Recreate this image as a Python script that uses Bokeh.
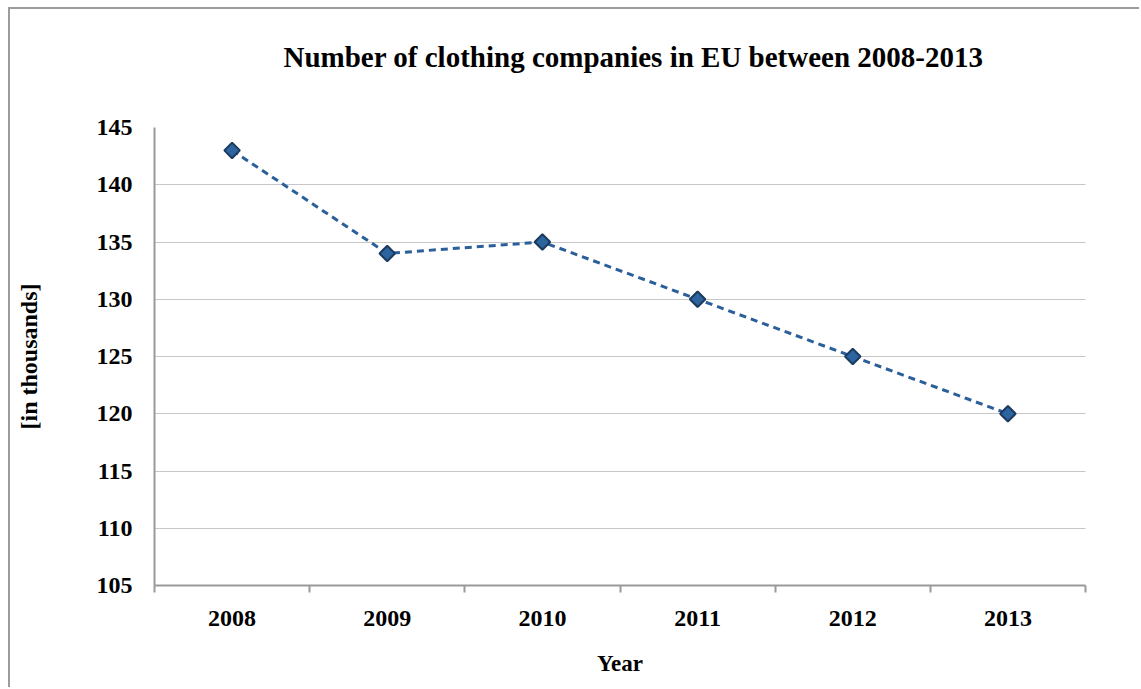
import math
from bokeh.plotting import figure
from bokeh.models import Range1d, FixedTicker, Title
from bokeh.embed import file_html
from bokeh.resources import INLINE

years = ["2008", "2009", "2010", "2011", "2012", "2013"]
companies = [143, 134, 135, 130, 125, 120]
y_ticks = [105, 110, 115, 120, 125, 130, 135, 140, 145]

x_pos = [i + 0.5 for i in range(len(years))]

FONT = "Liberation Serif"
AXIS_GRAY = "#9a9a9a"

p = figure(width=1131, height=680, output_backend="svg", toolbar_location=None,
           x_range=Range1d(0, len(years)), y_range=Range1d(105, 145),
           min_border_left=144, min_border_right=56, min_border_top=118, min_border_bottom=104)
p.styles = {"margin-left": "8px", "margin-top": "7px",
            "border-top": "2px solid #9c9c9c", "border-left": "2px solid #9c9c9c"}
p.title = Title(text="Number of clothing companies in EU between 2008-2013",
                text_font=FONT, text_font_size="29px", text_font_style="bold",
                text_color="black", align="left", standoff=20, offset=129,
                padding=(0, 0, 0, 45))
p.outline_line_color = None
p.background_fill_color = "white"
p.border_fill_color = "white"

# x axis
p.xaxis.ticker = FixedTicker(ticks=x_pos, minor_ticks=list(range(len(years) + 1)))
p.xaxis.major_label_overrides = {x: y for x, y in zip(x_pos, years)}
p.xaxis.major_tick_in = 0
p.xaxis.major_tick_out = 0
p.xaxis.minor_tick_in = 0
p.xaxis.minor_tick_out = 7
p.xaxis.minor_tick_line_color = AXIS_GRAY
p.xaxis.minor_tick_line_width = 2
p.xaxis.axis_line_color = AXIS_GRAY
p.xaxis.axis_line_width = 2
p.xaxis.major_label_text_font = FONT
p.xaxis.major_label_text_font_style = "bold"
p.xaxis.major_label_text_font_size = "24px"
p.xaxis.major_label_text_color = "black"
p.xaxis.major_label_standoff = 18
p.xaxis.axis_label = "Year"
p.xaxis.axis_label_text_font = FONT
p.xaxis.axis_label_text_font_style = "bold"
p.xaxis.axis_label_text_font_size = "23px"
p.xaxis.axis_label_text_color = "black"
p.xaxis.axis_label_standoff = 22

# y axis
p.yaxis.ticker = FixedTicker(ticks=y_ticks)
p.yaxis.major_tick_in = 0
p.yaxis.major_tick_out = 0
p.yaxis.minor_tick_line_color = None
p.yaxis.axis_line_color = AXIS_GRAY
p.yaxis.axis_line_width = 2
p.yaxis.major_label_text_font = FONT
p.yaxis.major_label_text_font_style = "bold"
p.yaxis.major_label_text_font_size = "24px"
p.yaxis.major_label_text_color = "black"
p.yaxis.major_label_standoff = 22
p.yaxis.axis_label = "[in thousands]"
p.yaxis.axis_label_text_font = FONT
p.yaxis.axis_label_text_font_style = "bold"
p.yaxis.axis_label_text_font_size = "24px"
p.yaxis.axis_label_text_color = "black"
p.yaxis.axis_label_standoff = 52

p.xgrid.grid_line_color = None
p.ygrid.ticker = FixedTicker(ticks=y_ticks)
p.ygrid.grid_line_color = "#8c8c8c"
p.ygrid.grid_line_width = 1
p.ygrid.grid_line_dash = "1 1"

p.line(x_pos, companies, line_color="#2b5f9a", line_width=3, line_dash="7 5")
p.scatter(x_pos, companies, marker="square", size=11, angle=math.pi / 4,
          fill_color="#2c64a0", line_color="#1c3a5e", line_width=2)

open("out.html", "w").write(file_html(p, INLINE))
